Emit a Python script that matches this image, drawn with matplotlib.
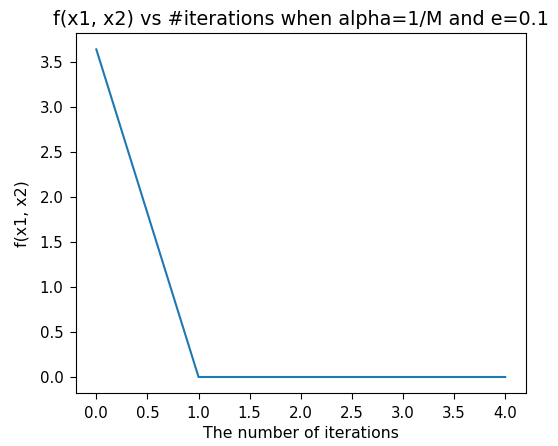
import matplotlib
matplotlib.use("Agg")
import matplotlib.pyplot as plt

iterations = [0, 1, 2, 3, 4]
f_values = [3.64, 0.0, 0.0, 0.0, 0.0]

fig, ax = plt.subplots(figsize=(5.58, 4.46), dpi=100)
ax.plot(iterations, f_values)
ax.set_title("f(x1, x2) vs #iterations when alpha=1/M and e=0.1", fontsize=13.8)
ax.set_xlabel("The number of iterations", fontsize=11.3)
ax.set_ylabel("f(x1, x2)", fontsize=11.3, labelpad=7)
ax.tick_params(labelsize=10.8, length=4, pad=5)
fig.subplots_adjust(left=0.136, right=0.942, top=0.926, bottom=0.118)
fig.savefig("out.png", dpi=100)
